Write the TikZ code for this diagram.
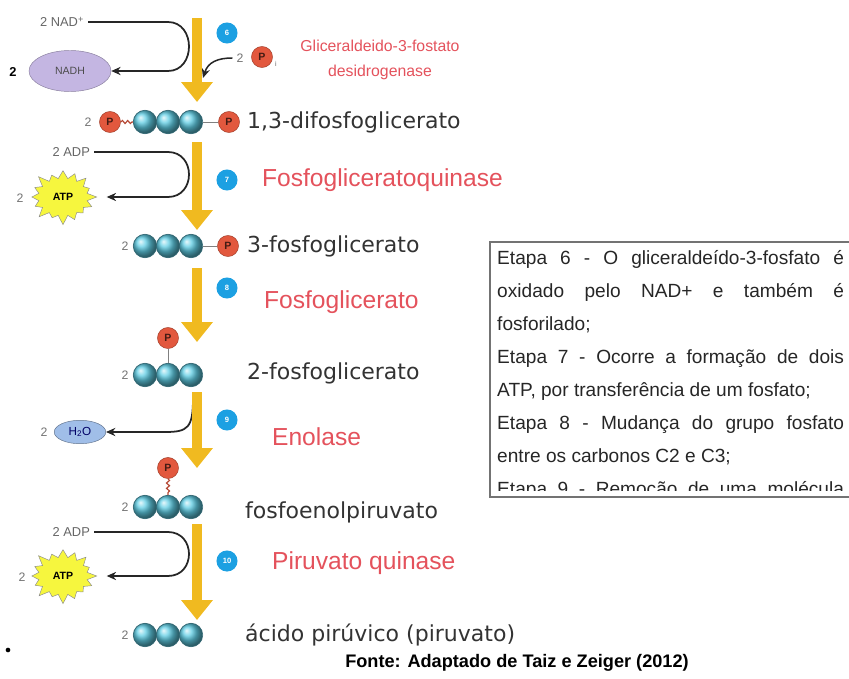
\documentclass[tikz,border=0pt]{standalone}
\usepackage{fontspec}
\setmainfont{Liberation Sans}
\newfontfamily\molfont{DejaVu Sans}
\usetikzlibrary{arrows.meta,shapes.geometric,shapes.symbols,decorations.pathmorphing}
\definecolor{arrowgold}{RGB}{240,186,32}
\definecolor{ballteal}{RGB}{95,205,228}
\definecolor{pred}{RGB}{226,88,62}
\definecolor{stepblue}{RGB}{28,160,226}
\definecolor{enzred}{RGB}{228,82,92}
\definecolor{nadhlilac}{RGB}{196,182,226}
\definecolor{waterblue}{RGB}{160,190,232}
\definecolor{atpyellow}{RGB}{246,246,62}

\tikzset{
  carbon/.style={circle, inner sep=0pt, minimum size=20pt, shading=ball, ball color=ballteal,
    draw=ballteal!50!black, line width=0.6pt},
  phos/.style={circle, inner sep=0pt, minimum size=18pt, fill=pred, draw=pred!70!black,
    text=pred!30!black, font=\bfseries\fontsize{9}{9}\selectfont},
  stepnum/.style={circle, inner sep=0pt, minimum size=18pt, fill=stepblue, text=white,
    font=\bfseries\fontsize{6.5}{6.5}\selectfont},
  flow/.style={draw=arrowgold, line width=9pt, -{Triangle[width=26pt,length=17pt]}},
  pathway/.style={draw=black!85, line width=1.5pt, -{Stealth[length=8pt,width=7pt]}},
  bond/.style={draw=black!50, line width=0.8pt},
  squiggle/.style={draw=pred!80!black, line width=1pt, decorate,
    decoration={snake, amplitude=1.3pt, segment length=4.5pt}},
  molname/.style={anchor=west, text=black!80, font=\molfont\fontsize{18.8}{18.8}\selectfont},
  enzyme/.style={anchor=west, text=enzred, font=\fontsize{21}{21}\selectfont},
  nlabel/.style={text=black!55, font=\fontsize{10.5}{10.5}\selectfont},
  cofactor/.style={anchor=east, text=black!60, font=\fontsize{11}{11}\selectfont},
  atp/.style={starburst, starburst points=16, starburst point height=9pt, minimum width=60pt,
    minimum height=50pt, inner sep=0pt, fill=atpyellow, draw=black!45,
    font=\bfseries\fontsize{9}{9}\selectfont},
  boxline/.style={anchor=base west, inner sep=0pt, text=black!85, font=\fontsize{16.3}{16.3}\selectfont},
}

\begin{document}
\begin{tikzpicture}[x=0.03cm,y=-0.03cm]
\useasboundingbox (0,0) rectangle (849,678);

% cofactors entering and leaving
\node[cofactor] (nad) at (88,22) {2 NAD\textsuperscript{+}};
\node[ellipse, minimum width=70pt, minimum height=35pt, fill=nadhlilac, draw=nadhlilac!70!black,
  text=black!70, font=\fontsize{9}{9}\selectfont] (nadh) at (70,71) {NADH};
\node[font=\bfseries\fontsize{11}{11}\selectfont] (nnadh) at (13,72) {2};
\draw[pathway] (nad.east) -- (168,22) .. controls (196,22) and (196,71) .. (168,71) -- (nadh.east);

\node[nlabel] (pi2) at (240,58) {2};
\node[phos] (pi) at (262,57) {P};
\node[text=black!60, font=\fontsize{6}{6}\selectfont] (pisub) at (276,64) {i};
\coordinate (pjoin) at (203,78);
\draw[pathway, line width=1.3pt] (pi2.west) .. controls (218,58) and (208,62) .. (pjoin);

\node[cofactor] (adp7) at (94,152) {2 ADP};
\node[atp] (atp7) at (63,197) {ATP};
\node[nlabel] (natp7) at (20,198) {2};
\draw[pathway, shorten >=8pt] (adp7.east) -- (168,152) .. controls (196,152) and (196,197) .. (168,197) -- (atp7.east);

\node[ellipse, minimum width=44pt, minimum height=20pt, inner sep=0pt, fill=waterblue,
  draw=waterblue!60!black, text=blue!40!black, font=\fontsize{10}{10}\selectfont] (water) at (80,432) {H\textsubscript{2}O};
\node[nlabel] (nwater) at (44,432) {2};
\coordinate (wsplit) at (193,398);
\draw[pathway] (wsplit) .. controls (193,428) and (188,432) .. (165,432) -- (water.east);

\node[cofactor] (adp10) at (94,532) {2 ADP};
\node[atp] (atp10) at (63,576) {ATP};
\node[nlabel] (natp10) at (22,577) {2};
\draw[pathway, shorten >=8pt] (adp10.east) -- (168,532) .. controls (196,532) and (196,576) .. (168,576) -- (atp10.east);

% yellow reaction arrows and step numbers
\foreach \s/\a/\b in {6/18/102, 7/142/230, 8/268/342, 9/392/468, 10/524/620}
{
\coordinate (top\s) at (197,\a);
\coordinate (tip\s) at (197,\b);
\draw[flow] (top\s) -- (tip\s);
}
\node[stepnum] (s6) at (227,33) {6};
\node[stepnum] (s7) at (227,180) {7};
\node[stepnum] (s8) at (227,288) {8};
\node[stepnum] (s9) at (227,420) {9};
\node[stepnum] (s10) at (227,561) {10};

% enzymes
\node[enzyme, anchor=center, align=center, font=\fontsize{13.5}{21}\selectfont] (e6) at (380,60)
  {Gliceraldeido-3-fostato\\desidrogenase};
\node[enzyme] (e7) at (258,180) {Fosfogliceratoquinase};
\node[enzyme] (e8) at (260,302) {Fosfoglicerato};
\node[enzyme] (e9) at (268,437) {Enolase};
\node[enzyme] (e10) at (268,563) {Piruvato quinase};

% carbon chains
\foreach \y/\r in {122/a,246/b,375/c,507/d,635/e}
{
\foreach \x/\i in {145/1,168/2,191/3}
  \node[carbon] (\r\i) at (\x,\y) {};
}
\node[nlabel] (na) at (88,122) {2};
\foreach \y/\r in {246/b,375/c,507/d,635/e}
  \node[nlabel] (n\r) at (125,\y) {2};

% phosphate groups
\node[phos] (pa) at (110,122) {P};
\node[phos] (qa) at (229,122) {P};
\draw[squiggle] (pa.east) -- (a1.west);
\draw[bond] (a3.east) -- (qa.west);
\node[phos] (qb) at (228,246) {P};
\draw[bond] (b3.east) -- (qb.west);
\node[phos] (pc) at (168,338) {P};
\draw[bond] (pc.south) -- (c2.north);
\node[phos] (pd) at (168,468) {P};
\draw[squiggle] (pd.south) -- (d2.north);

% molecule names
\node[molname] (ma) at (243,122) {1,3-difosfoglicerato};
\node[molname] (mb) at (243,246) {3-fosfoglicerato};
\node[molname] (mc) at (243,373) {2-fosfoglicerato};
\node[molname] (md) at (241,512) {fosfoenolpiruvato};
\node[molname] (me) at (241,635) {ácido pirúvico (piruvato)};

\node[circle, fill=black, inner sep=1.4pt] (dot) at (8,650) {};

% text box
\draw[draw=black!55, line width=0.9pt] (849,242) -- (490,242) -- (490,497) -- (849,497);
\begin{scope}
\clip (490,242) rectangle (849,490);
\node[boxline] (l1) at (497,264) {\makebox[296pt][s]{Etapa 6 - O gliceraldeído-3-fosfato é}};
\node[boxline] (l2) at (497,297) {\makebox[296pt][s]{oxidado pelo NAD+ e também é}};
\node[boxline] (l3) at (497,330) {fosforilado;};
\node[boxline] (l4) at (497,363) {\makebox[296pt][s]{Etapa 7 - Ocorre a formação de dois}};
\node[boxline] (l5) at (497,396) {ATP, por transferência de um fosfato;};
\node[boxline] (l6) at (497,429) {\makebox[296pt][s]{Etapa 8 - Mudança do grupo fosfato}};
\node[boxline] (l7) at (497,462) {entre os carbonos C2 e C3;};
\node[boxline] (l8) at (497,495) {\makebox[296pt][s]{Etapa 9 - Remoção de uma molécula}};
\end{scope}

\node[font=\bfseries\fontsize{15.5}{15.5}\selectfont] (fonte) at (517,663) {Fonte: Adaptado de Taiz e Zeiger (2012)};
\end{tikzpicture}
\end{document}
